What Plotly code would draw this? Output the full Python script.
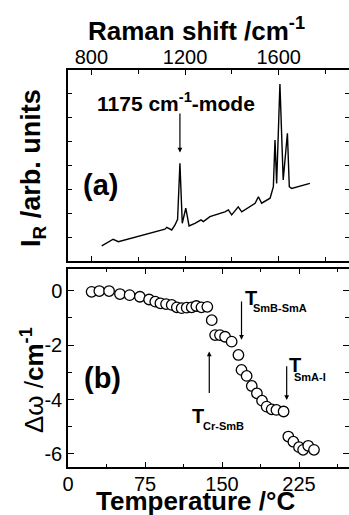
import plotly.graph_objects as go

# ---------------- data ----------------
raman_shift = [844, 893, 915, 1008, 1093, 1114, 1122, 1143, 1157, 1168, 1178, 1188,
               1203, 1217, 1242, 1268, 1278, 1306, 1370, 1385, 1399, 1427, 1442,
               1499, 1513, 1527, 1563, 1577, 1584, 1591, 1605, 1619, 1637, 1645,
               1655, 1733]
intensity = [0.63, 0.91, 0.81, 1.05, 1.26, 1.33, 1.41, 1.30, 1.51, 1.75, 4.09, 1.58,
             2.21, 1.47, 1.58, 1.72, 1.65, 1.86, 2.06, 2.14, 1.93, 2.27, 2.06,
             2.42, 2.69, 2.42, 2.63, 3.11, 5.07, 3.25, 7.41, 3.39, 5.35, 3.11,
             3.04, 3.25]

temperature = [23, 30.5, 40, 50.6, 60, 70, 79, 85, 90, 95.5, 101, 106, 110.7, 115.6,
               120.5, 125, 130, 135.7, 140, 143.3, 148, 153, 159.4, 166, 169, 174,
               179, 184, 189, 193.5, 198.4, 203, 210, 214.6, 219.5, 225, 229, 234,
               239.6]
delta_omega = [-0.04, -0.01, -0.01, -0.12, -0.16, -0.22, -0.32, -0.40, -0.46, -0.49,
               -0.52, -0.61, -0.64, -0.62, -0.61, -0.56, -0.61, -0.59, -1.08, -1.63,
               -1.63, -1.69, -1.87, -2.36, -2.91, -3.13, -3.50, -3.77, -4.04, -4.26,
               -4.36, -4.38, -4.44, -5.36, -5.55, -5.75, -5.85, -5.70, -5.85]

raman_ticks = [800, 1200, 1600]
raman_minor = [1000, 1400, 1800]
temp_ticks = [0, 75, 150, 225]
temp_minor = [37.5, 112.5, 187.5, 262.5]
dw_ticks = [0, -2, -4, -6]
dw_labels = ["0", "-2", "-4", "-6"]
dw_minor = [-1, -3, -5]
int_ticks = [1, 2, 3, 4, 5, 6, 7]

transitions = [  # (T, arrow tip, arrow tail, subscript)
    (169, -1.80, -0.34, "SmB-SmA"),
    (213, -4.02, -2.72, "SmA-I"),
    (137.6, -2.23, -3.81, "Cr-SmB"),
]

FONT = "Liberation Sans, Arial, sans-serif"

fig = go.Figure()
fig.add_trace(go.Scatter(x=raman_shift, y=intensity, mode="lines",
                         line=dict(color="black", width=1.4),
                         xaxis="x", yaxis="y", showlegend=False))
fig.add_trace(go.Scatter(x=temperature, y=delta_omega, mode="markers",
                         marker=dict(symbol="circle", size=10.5, color="white",
                                     line=dict(color="black", width=1.3)),
                         xaxis="x2", yaxis="y2", showlegend=False))

axis_common = dict(showline=True, linecolor="black", linewidth=1.5, mirror="ticks",
                   ticks="inside", tickcolor="black", tickwidth=1.3, ticklen=5,
                   showgrid=False, zeroline=False, automargin=False,
                   tickfont=dict(family=FONT, size=20, color="black"))

fig.update_layout(
    width=349, height=515,
    margin=dict(l=68, r=0, t=70, b=48, autoexpand=False),
    paper_bgcolor="white", plot_bgcolor="white",
    xaxis=dict(axis_common, domain=[0, 1], anchor="y", side="top",
               range=[700, 1900], tickvals=raman_ticks, ticklabelstandoff=-4,
               minor=dict(tickvals=raman_minor, ticks="inside", ticklen=4,
                          tickcolor="black", tickwidth=1.3)),
    yaxis=dict(axis_common, domain=[0.5189, 1], anchor="x", range=[0, 8],
               tickvals=int_ticks, showticklabels=False, ticklen=4),
    xaxis2=dict(axis_common, domain=[0, 1], anchor="y2", side="bottom",
                range=[0, 273.7], tickvals=temp_ticks, ticklabelstandoff=-2,
                minor=dict(tickvals=temp_minor, ticks="inside", ticklen=3,
                           tickcolor="black", tickwidth=1.3)),
    yaxis2=dict(axis_common, domain=[0, 0.4987], anchor="x2", range=[-6.48, 0.80],
                tickvals=dw_ticks, ticktext=dw_labels, ticklen=6,
                minor=dict(tickvals=dw_minor, ticks="inside", ticklen=4,
                           tickcolor="black", tickwidth=1.3)),
)

C = dict(xanchor="center", yanchor="middle", showarrow=False)
ann = []
# axis titles
ann.append(dict(C, text="<b>Raman shift /cm<sup>-1</sup></b>", xref="paper", yref="paper",
                x=0.459, y=1.1008, font=dict(family=FONT, size=26, color="black")))
ann.append(dict(C, text="<b>Temperature /°C</b>", xref="paper", yref="paper",
                x=0.452, y=-0.0857, font=dict(family=FONT, size=26, color="black")))
ann.append(dict(C, text="<b>I<sub>R</sub> /arb. units</b>", xref="paper", yref="paper",
                x=-0.1246, y=0.753, textangle=-90,
                font=dict(family=FONT, size=27, color="black")))
ann.append(dict(C, text="Δω /<b>cm<sup>-1</sup></b>", xref="paper", yref="paper",
                x=-0.128, y=0.219, textangle=-90,
                font=dict(family=FONT, size=26, color="black")))
# panel labels
ann.append(dict(C, text="<b>(a)</b>", xref="x", yref="y", x=840, y=3.18,
                font=dict(family=FONT, size=29, color="black")))
ann.append(dict(C, text="<b>(b)</b>", xref="x2", yref="y2", x=34, y=-3.19,
                font=dict(family=FONT, size=29, color="black")))
# 1175 mode
ann.append(dict(C, text="<b>1175 cm<sup>-1</sup>-mode</b>", xref="x", yref="y",
                x=1161, y=6.67, font=dict(family=FONT, size=21, color="black")))
ann.append(dict(text="", xref="x", yref="y", axref="x", ayref="y",
                x=1178, y=4.54, ax=1178, ay=6.24, showarrow=True,
                arrowhead=2, arrowsize=0.8, arrowwidth=1.2, arrowcolor="black",
                standoff=0, startstandoff=0))
# transition arrows
label_pos = {
    "SmB-SmA": ((178.2, -0.28), (206.5, -0.64)),
    "SmA-I": ((221.1, -2.72), (235.7, -3.16)),
    "Cr-SmB": ((126.9, -4.62), (151.0, -4.97)),
}
for T, tip, tail, sub in transitions:
    ann.append(dict(text="", xref="x2", yref="y2", axref="x2", ayref="y2",
                    x=T, y=tip, ax=T, ay=tail, showarrow=True,
                    arrowhead=2, arrowsize=0.8, arrowwidth=1.2, arrowcolor="black",
                    standoff=0, startstandoff=0))
    (tx, ty), (sx, sy) = label_pos[sub]
    ann.append(dict(C, text="<b>T</b>", xref="x2", yref="y2", x=tx, y=ty,
                    font=dict(family=FONT, size=20, color="black")))
    ann.append(dict(C, text="<b>" + sub + "</b>", xref="x2", yref="y2", x=sx, y=sy,
                    font=dict(family=FONT, size=11, color="black")))

fig.update_layout(annotations=ann)
fig.write_html("out.html", config={"displayModeBar": False},
               post_script="document.body.style.margin='0';document.body.style.padding='0';")
